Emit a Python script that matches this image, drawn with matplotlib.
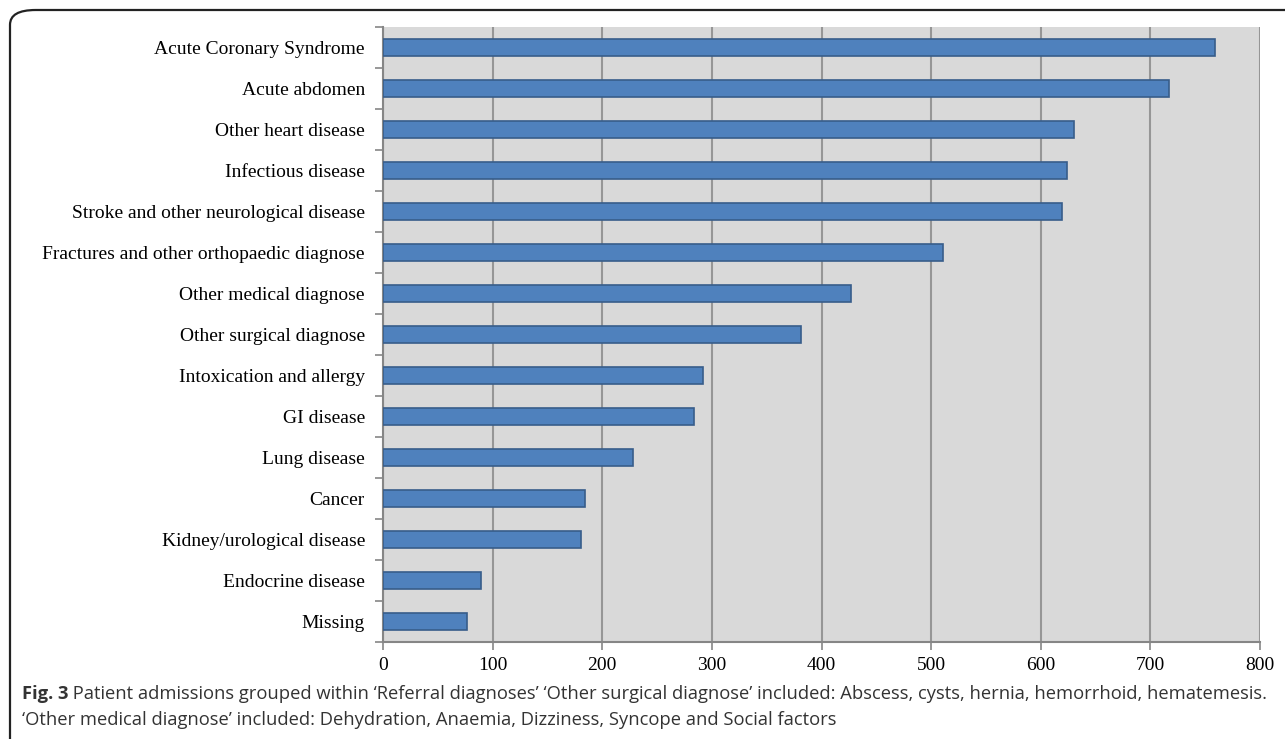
import matplotlib
matplotlib.use("Agg")
import matplotlib.pyplot as plt
from matplotlib.patches import FancyBboxPatch
from matplotlib.ticker import FixedLocator

categories = [
    "Acute Coronary Syndrome",
    "Acute abdomen",
    "Other heart disease",
    "Infectious disease",
    "Stroke and other neurological disease",
    "Fractures and other orthopaedic diagnose",
    "Other medical diagnose",
    "Other surgical diagnose",
    "Intoxication and allergy",
    "GI disease",
    "Lung disease",
    "Cancer",
    "Kidney/urological disease",
    "Endocrine disease",
    "Missing",
]
values = [759, 717, 630, 624, 619, 511, 427, 381, 292, 284, 228, 184, 181, 89, 77]
x_ticks = [0, 100, 200, 300, 400, 500, 600, 700, 800]

caption_bold = "Fig. 3"
caption_line1 = " Patient admissions grouped within \u2018Referral diagnoses\u2019 \u2018Other surgical diagnose\u2019 included: Abscess, cysts, hernia, hemorrhoid, hematemesis."
caption_line2 = "\u2018Other medical diagnose\u2019 included: Dehydration, Anaemia, Dizziness, Syncope and Social factors"

W, H = 1285, 739
fig = plt.figure(figsize=(W / 100, H / 100), dpi=100)
fig.patch.set_facecolor("white")

# rounded frame
frame = FancyBboxPatch((10 / W, -30 / H), (W + 40) / W, (H + 30 - 10) / H,
                       boxstyle="round,pad=0,rounding_size=0.02",
                       transform=fig.transFigure, fill=False,
                       edgecolor="#222222", linewidth=1.6, zorder=0)
fig.patches.append(frame)

ax = fig.add_axes([383 / W, 1 - 642 / H, (1260 - 383) / W, (642 - 27) / H])
ax.set_facecolor("#D9D9D9")

y = list(range(len(categories)))
ax.barh(y, values, height=0.4, color="#4F81BD", edgecolor="#385D8A", linewidth=1.2, zorder=3)

ax.set_xlim(0, 800)
ax.set_ylim(len(categories) - 0.5, -0.5)
ax.set_xticks(x_ticks)
ax.set_xticklabels([str(t) for t in x_ticks], family="Liberation Serif", fontsize=14)
ax.xaxis.grid(True, color="#969696", linewidth=1.5, zorder=1)
ax.set_axisbelow(True)

# y: major ticks at boundaries, labels at centres
ax.yaxis.set_major_locator(FixedLocator([i - 0.5 for i in range(len(categories) + 1)]))
ax.yaxis.set_major_formatter(plt.NullFormatter())
ax.yaxis.set_minor_locator(FixedLocator(y))
ax.set_yticklabels(categories, minor=True, family="Liberation Serif", fontsize=14)
ax.tick_params(axis="y", which="major", length=6, width=1.2, color="#868686", direction="out")
ax.tick_params(axis="y", which="minor", length=0, pad=13)
ax.tick_params(axis="x", length=6, width=1.2, color="#868686", direction="out", pad=5)

for s in ["top", "right"]:
    ax.spines[s].set_visible(False)
for s in ["left", "bottom"]:
    ax.spines[s].set_color("#868686")
    ax.spines[s].set_linewidth(1.5)

# caption
cap_size = 13.2
t1 = fig.text(22 / W, 1 - 694 / H, caption_bold, family="Open Sans", fontweight="bold",
              fontsize=cap_size, color="#333333", va="center", ha="left")
fig.canvas.draw()
bb = t1.get_window_extent()
fig.text(bb.x1 / W, 1 - 694 / H, caption_line1, family="Open Sans", fontsize=cap_size,
         color="#333333", va="center", ha="left")
fig.text(22 / W, 1 - 720 / H, caption_line2, family="Open Sans", fontsize=cap_size,
         color="#333333", va="center", ha="left")

fig.savefig("out.png", dpi=100)
